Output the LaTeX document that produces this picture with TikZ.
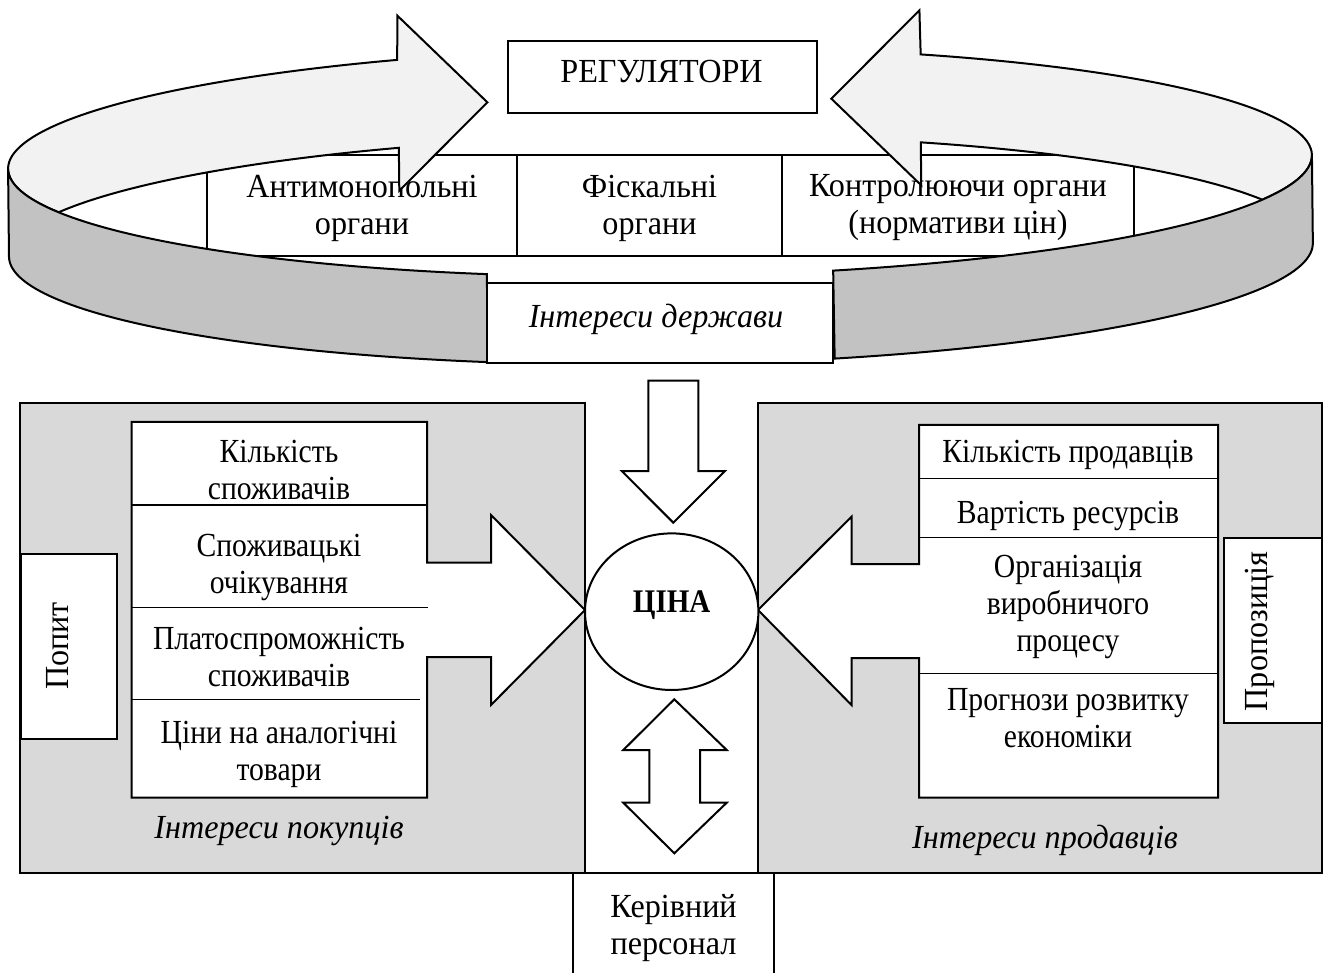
\documentclass[tikz,border=0pt]{standalone}
\usepackage{fontspec}
\setmainfont{Liberation Serif}[FakeStretch=0.955]
\newfontfamily\listfont{Liberation Serif}[FakeStretch=0.88]
\usetikzlibrary{shapes.geometric}
\definecolor{ltgray}{HTML}{F2F2F2}
\definecolor{bandgray}{HTML}{C2C2C2}
\definecolor{panelgray}{HTML}{D9D9D9}
\begin{document}
\begin{tikzpicture}[x=1pt,y=-1pt,
  ln/.style={line width=2pt, line join=miter},
  thinln/.style={line width=1.3pt},
  txt/.style={font=\fontsize{33.7}{37}\selectfont, align=center, inner sep=0pt},
  ltxt/.style={font=\listfont\fontsize{33.7}{37}\selectfont, align=center, inner sep=0pt},
  itxt/.style={txt, font=\fontsize{33.7}{37}\selectfont\itshape},
  declare function={ex(\t)=652*cos(\t); ey(\t)=114.5*sin(\t);}
]
\useasboundingbox (0,0) rectangle (1323,973);

% row of regulators
\draw[ln, fill=white] (207,155) rectangle (1134,256);
\draw[ln] (517,155) -- (517,256) (782,155) -- (782,256);
\node[txt] (anti) at (362,208) {Антимонопольні\\органи};
\node[txt] (fisk) at (649.5,208) {Фіскальні\\органи};
\node[txt] (kontr) at (958,208) {Контролюючи органи\\(нормативи цін)};

% ring
\begin{scope}[shift={(660,162)}, rotate=0.6]
  \filldraw[ln, fill=ltgray]
    plot[domain=0:1,samples=70] ({ex(157.4+89*\x)},{ey(157.4+89*\x)})
    -- (-261,-149) -- (-172,-61.5) -- (-261,26)
    -- plot[domain=0:1,samples=40] ({ex(246.4-43.8*\x)},{ey(246.4-43.8*\x)+88})
    -- cycle;
  \filldraw[ln, fill=ltgray]
    plot[domain=0:1,samples=70] ({ex(22.6-89*\x)},{ey(22.6-89*\x)})
    -- (261,-149) -- (172,-61.5) -- (261,26)
    -- plot[domain=0:1,samples=40] ({ex(-66.4+43.8*\x)},{ey(-66.4+43.8*\x)+88})
    -- cycle;
  \filldraw[ln, fill=bandgray]
    plot[domain=0:1,samples=60] ({ex(105.5+74.5*\x)},{ey(105.5+74.5*\x)})
    -- plot[domain=0:1,samples=60] ({ex(180-74.5*\x)},{ey(180-74.5*\x)+88})
    -- cycle;
  \filldraw[ln, fill=bandgray]
    plot[domain=0:1,samples=60] ({ex(74.7-74.7*\x)},{ey(74.7-74.7*\x)})
    -- plot[domain=0:1,samples=60] ({ex(74.7*\x)},{ey(74.7*\x)+88})
    -- cycle;
\end{scope}

% regulators box
\draw[ln, fill=white] (508,40.7) rectangle (817,112.7);
\node[txt] (reg) at (661.5,72) {РЕГУЛЯТОРИ};

% state interests
\draw[ln, fill=white] (487,283) rectangle (833,363);
\node[itxt] (derzh) at (656,319) {Інтереси держави};

% lower panels
\draw[ln, fill=panelgray] (20,403) rectangle (585,873);
\draw[ln, fill=panelgray] (758,403) rectangle (1321.5,873);
\draw[ln] (585,873) -- (758,873);

% buyers list + arrow
\draw[ln, fill=white] (131.5,422) -- (427,422) -- (427,562.7) -- (491,562.7) -- (491,515)
  -- (585,610) -- (491,705) -- (491,657) -- (427,657) -- (427,797.7) -- (131.5,797.7) -- cycle;
\draw[thinln] (131.5,505) -- (427,505) (131.5,607.7) -- (428,607.7) (131.5,699.3) -- (420,699.3);

% sellers list + arrow
\draw[ln, fill=white] (1218,425) -- (919,425) -- (919,564) -- (851.5,564) -- (851.5,516.7)
  -- (758,610) -- (851.5,705) -- (851.5,658) -- (919,658) -- (919,797.7) -- (1218,797.7) -- cycle;
\draw[thinln] (919,478.3) -- (1218,478.3) (919,537.7) -- (1218,537.7) (919,673.3) -- (1218,673.3);

% side labels
\draw[ln, fill=white] (21,554) rectangle (117,739);
\node[txt, rotate=90] (popyt) at (58,646) {Попит};
\draw[ln, fill=white] (1224,537.7) rectangle (1321.5,723);
\node[txt, rotate=90] (propoz) at (1260,631.5) {Пропозиція};

% price
\node[ln, draw, fill=white, ellipse, minimum width=173.4pt, minimum height=156.6pt, inner sep=0pt] (cina) at (671.7,611.7) {};
\node[font=\listfont\fontsize{33}{37}\selectfont\bfseries, inner sep=0pt] (cinat) at (671.7,605) {ЦІНА};

% vertical arrows
\draw[ln, fill=white] (648.3,380.7) -- (698.3,380.7) -- (698.3,471) -- (725,471) -- (673.3,522.7)
  -- (621.7,471) -- (648.3,471) -- cycle;
\draw[ln, fill=white] (674.3,699.3) -- (726.7,750) -- (700,750) -- (700,802.7) -- (726.7,802.7)
  -- (674.3,853.3) -- (623.3,802.7) -- (649.3,802.7) -- (649.3,750) -- (623.3,750) -- cycle;

% management
\draw[ln] (573,873) -- (573,980) (774,873) -- (774,980);
\node[txt] (kerivn) at (673.5,928) {Керівний\\персонал};

% list texts
\node[ltxt] (k1) at (279,470) {Кількість\\споживачів};
\node[ltxt] (k2) at (279,567) {Споживацькі\\очікування};
\node[ltxt] (k3) at (279,657) {Платоспроможність\\споживачів};
\node[ltxt] (k4) at (279,754) {Ціни на аналогічні\\товари};
\node[ltxt] (s1) at (1068,455) {Кількість продавців};
\node[ltxt] (s2) at (1068,516) {Вартість ресурсів};
\node[ltxt] (s3) at (1068,607) {Організація\\виробничого\\процесу};
\node[ltxt] (s4) at (1068,718) {Прогнози розвитку\\економіки};
\node[itxt] (buy) at (279,831) {Інтереси покупців};
\node[itxt] (sell) at (1045,840) {Інтереси продавців};
\end{tikzpicture}
\end{document}
